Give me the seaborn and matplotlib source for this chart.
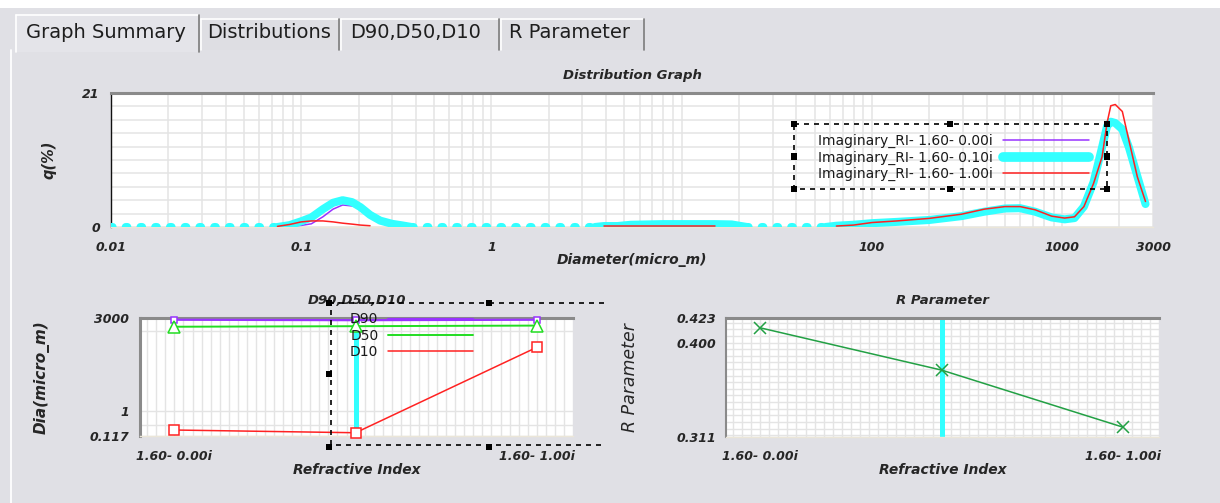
import numpy as np
import pandas as pd
import matplotlib
matplotlib.use("Agg")
import matplotlib.pyplot as plt
import seaborn as sns
from matplotlib.patches import Rectangle
from matplotlib.lines import Line2D
from matplotlib.ticker import FixedLocator, NullFormatter, MultipleLocator, LogLocator

# ---------------- data ----------------
diameter = [0.01, 0.03, 0.06, 0.075, 0.087, 0.1, 0.113, 0.13, 0.147, 0.165, 0.185, 0.205, 0.23, 0.26, 0.3, 0.34, 0.38,
            0.6, 1.2, 2.5, 3.5,
            3.9, 4.6, 5.4, 8, 12, 15, 18.3,
            22, 35, 57,
            65, 80, 100, 135, 200, 295, 390, 500, 600, 720, 880, 1030, 1160, 1300,
            1460, 1620, 1720, 1800, 1900, 2070, 2240, 2480, 2740]

q_ri_000 = [0, 0, 0, 0, 0.1, 0.25, 0.5, 1.6, 2.8, 3.45, 3.3, 3.0, 2.1, 1.1, 0.5, 0.2, 0,
            0, 0, 0, 0,
            0.15, 0.15, 0.35, 0.45, 0.45, 0.45, 0.4,
            0, 0, 0,
            0.2, 0.35, 0.6, 0.8, 1.1, 1.7, 2.4, 2.9, 2.95, 2.4, 1.5, 1.2, 1.4, 3.2,
            7.0, 12.5, 15.8, 16.5, 16.3, 15.3, 12.5, 8.0, 3.6]

q_ri_010 = [0, 0, 0, 0, 0.3, 0.9, 1.5, 2.8, 3.8, 4.2, 3.9, 3.1, 1.9, 1.0, 0.5, 0.25, 0,
            0, 0, 0, 0,
            0.15, 0.15, 0.35, 0.45, 0.45, 0.45, 0.4,
            0, 0, 0,
            0.2, 0.35, 0.6, 0.8, 1.1, 1.7, 2.4, 2.9, 2.95, 2.4, 1.5, 1.2, 1.4, 3.2,
            7.0, 12.5, 15.8, 16.5, 16.3, 15.3, 12.5, 8.0, 3.6]

q_ri_100 = [0, 0, 0, 0.1, 0.4, 0.8, 0.95, 0.95, 0.8, 0.6, 0.45, 0.3, 0.2, 0, 0, 0, 0,
            0, 0, 0, 0,
            0.2, 0.2, 0.2, 0.2, 0.2, 0.2, 0,
            0, 0, 0,
            0.15, 0.3, 0.7, 0.95, 1.35, 2.0, 2.8, 3.2, 3.2, 2.7, 1.7, 1.4, 1.6, 3.2,
            6.8, 11.0, 16.3, 19.0, 19.2, 18.1, 13.6, 7.9, 4.0]

series_labels = ["Imaginary_RI- 1.60- 0.00i", "Imaginary_RI- 1.60- 0.10i", "Imaginary_RI- 1.60- 1.00i"]

x_major_ticks = [0.01, 0.1, 1, 10, 100, 1000, 3000]
x_major_labels = ["0.01", "0.1", "1", "", "100", "1000", "3000"]

ri_positions = [0, 1, 2]
ri_ticks = [0, 0.5, 1, 1.5, 2]
ri_tick_labels = ["1.60- 0.00i", "", "", "", "1.60- 1.00i"]
d90 = [2650, 2550, 2650]
d50 = [1450, 1520, 1600]
d10 = [0.196, 0.155, 245]
d_labels = ["D90", "D50", "D10"]
r_param = [0.414, 0.374, 0.320]
selected = 1

tab_labels = ["Graph Summary", "Distributions", "D90,D50,D10", "R Parameter"]

# ---------------- style ----------------
W, H = 1220, 503
BG = "#e0e0e5"
PURPLE = "#9933ff"
CYAN = "#33ffff"
RED = "#ff2222"
GREEN = "#22dd22"
RGREEN = "#22a044"
GRID = "#e4e4e4"

sns.set_style("white")
plt.rcParams["font.family"] = ["DejaVu Sans"]

fig = plt.figure(figsize=(W / 100, H / 100), dpi=100, facecolor=BG)


def fx(p):
    return p / W


def fy(p):
    return 1 - p / H


def axes_px(x0, y0, x1, y1):
    return fig.add_axes([fx(x0), fy(y1), (x1 - x0) / W, (y1 - y0) / H])


def fig_line(xs, ys, **kw):
    fig.add_artist(Line2D([fx(v) for v in xs], [fy(v) for v in ys], transform=fig.transFigure, **kw))


def fig_rect(x0, y0, x1, y1, **kw):
    fig.add_artist(Rectangle((fx(x0), fy(y1)), (x1 - x0) / W, (y1 - y0) / H, transform=fig.transFigure, **kw))


# white strip on top
fig_rect(0, 0, W, 8, facecolor="white", edgecolor="none", zorder=0)
# panel left border
fig_line([11, 11], [50, H], color="white", lw=1.3, zorder=1)

# tabs
tab_geo = [(15, 200, 14, True, 26), (200, 340, 18, False, 207), (340, 500, 18, False, 350), (500, 645, 18, False, 509)]
order = [1, 2, 3, 0]
for i in order:
    x0, x1, yt, active, tx = tab_geo[i]
    yb = 52 if active else 50
    fig_rect(x0, yt, x1, yb, facecolor="#e4e4e9" if active else "#dedee3", edgecolor="none", zorder=1)
    fig_line([x0 + 1, x0 + 1], [yb, yt + 1], color="white", lw=1.2, zorder=2)
    fig_line([x0 + 1, x1 - 2], [yt + 0.5, yt + 0.5], color="white", lw=1.2, zorder=2)
    fig_line([x1 - 1, x1 - 1], [yt + 1, yb], color="#7c7c7c", lw=1.2, zorder=2)
    fig.text(fx(tx), fy(37.5), tab_labels[i], fontsize=14, color="#1e1e1e", ha="left", va="baseline", zorder=3)

TICKFONT = dict(fontsize=9, fontweight="bold", fontstyle="italic")
LABFONT = dict(fontsize=10, fontweight="bold", fontstyle="italic")


def style_axes(ax, left_color, left_lw, major_len, minor_len):
    ax.set_facecolor("white")
    ax.spines["right"].set_visible(False)
    ax.spines["top"].set_color("#8a8a8a")
    ax.spines["top"].set_linewidth(2.2)
    ax.spines["left"].set_color(left_color)
    ax.spines["left"].set_linewidth(left_lw)
    ax.spines["bottom"].set_color("#ebe6d8")
    ax.spines["bottom"].set_linewidth(1)
    ax.tick_params(which="both", direction="out", color="#1a1a1a", width=1.0, top=False, right=False)
    ax.tick_params(which="major", length=major_len)
    ax.tick_params(which="minor", length=minor_len)
    ax.set_axisbelow(True)


def runs(d, q, keep):
    rows = []
    seg = -1
    prev = False
    for i in range(len(d) - 1):
        k = keep(q[i], q[i + 1])
        if k:
            if not prev:
                seg += 1
                rows.append((d[i], q[i], seg))
            rows.append((d[i + 1], q[i + 1], seg))
        prev = k
    return pd.DataFrame(rows, columns=["d", "q", "seg"])


# ---------------- top: distribution graph ----------------
ax1 = axes_px(111, 93, 1153, 227)
style_axes(ax1, "#111111", 1.0, 7, 3.5)
ax1.set_xscale("log")

both_pos = lambda a, b: a > 0 and b > 0
any_pos = lambda a, b: a > 0 or b > 0
both_zero = lambda a, b: a == 0 and b == 0

df_p = runs(diameter, q_ri_000, both_pos)
sns.lineplot(data=df_p, x="d", y="q", units="seg", estimator=None, sort=False, ax=ax1,
             color=PURPLE, lw=1.1, legend=False, zorder=2)
df_c = runs(diameter, q_ri_010, any_pos)
sns.lineplot(data=df_c, x="d", y="q", units="seg", estimator=None, sort=False, ax=ax1,
             color=CYAN, lw=5.8, solid_capstyle="round", solid_joinstyle="round", legend=False, zorder=3)
df_cz = runs(diameter, q_ri_010, both_zero)
sns.lineplot(data=df_cz, x="d", y="q", units="seg", estimator=None, sort=False, ax=ax1,
             color=CYAN, lw=5.8, linestyle=(0, (0.2, 1.63)), dash_capstyle="round", legend=False, zorder=3)
df_r = runs(diameter, q_ri_100, both_pos)
sns.lineplot(data=df_r, x="d", y="q", units="seg", estimator=None, sort=False, ax=ax1,
             color=RED, lw=1.1, legend=False, zorder=4)

ax1.set_xlim(0.01, 3000)
ax1.set_ylim(0, 21)
ax1.set_xticks(x_major_ticks, x_major_labels, **TICKFONT)
ax1.xaxis.set_minor_locator(LogLocator(base=10, subs=range(2, 10), numticks=30))
ax1.xaxis.set_minor_formatter(NullFormatter())
ax1.set_yticks([0, 21], ["0", "21"], **TICKFONT)
ax1.yaxis.set_minor_locator(MultipleLocator(2.1))
ax1.tick_params(axis="x", which="major", pad=3)
ax1.tick_params(axis="y", which="major", pad=1)
ax1.grid(which="both", axis="both", color=GRID, lw=1.1)
ax1.set_xlabel("Diameter(micro_m)", **LABFONT)
ax1.xaxis.set_label_coords(0.5, (227 - 260) / 134)
ax1.xaxis.label.set_va("center")
ax1.set_ylabel("q(%)", fontsize=10.5, fontweight="bold", fontstyle="italic")
ax1.yaxis.set_label_coords((49 - 111) / 1042, 0.5)
ax1.yaxis.label.set_va("center")
ax1.text(0.5, 1 + (93 - 75) / 134, "Distribution Graph", transform=ax1.transAxes,
         ha="center", va="center", fontsize=9.5, fontweight="bold", fontstyle="italic")

h1 = [Line2D([], [], color=PURPLE, lw=1.1),
      Line2D([], [], color=CYAN, lw=7, solid_capstyle="round"),
      Line2D([], [], color=RED, lw=1.1)]
leg1 = ax1.legend(h1, series_labels, loc="center", bbox_to_anchor=(fx(953.5), fy(157.5)),
                  bbox_transform=fig.transFigure, frameon=False, markerfirst=False,
                  handlelength=6.2, handletextpad=0.75, labelspacing=0.15, fontsize=10,
                  borderpad=0, borderaxespad=0)
for t in leg1.get_texts():
    t.set_color("#1a1a1a")

# selection box around top legend
DASH = dict(color="black", lw=1.2, linestyle=(0, (3, 3)), zorder=10)
fig_line([794, 1107, 1107, 794, 794], [124, 124, 189, 189, 124], **DASH)
for (hx, hy) in [(794, 124), (950, 124), (1107, 124), (794, 156.5), (1107, 156.5),
                 (794, 189), (950, 189), (1107, 189)]:
    fig_rect(hx - 3, hy - 3, hx + 3, hy + 3, facecolor="black", edgecolor="none", zorder=11)

# ---------------- bottom-left: D90, D50, D10 ----------------
ax2 = axes_px(140, 318.3, 573, 436)
style_axes(ax2, "#8a8a8a", 2.2, 5.8, 2.9)
ax2.set_yscale("log")
df_d = pd.DataFrame({"ri": ri_positions, "D90": d90, "D50": d50, "D10": d10})

ax2.axvline(ri_positions[selected], ymin=0, ymax=0.96, color=CYAN, lw=3.6, zorder=2)
specs = [("D90", PURPLE, "s", 5, 1.6), ("D50", GREEN, "^", 8, 1.4), ("D10", RED, "s", 7, 1.1)]
for col, c, mk, ms, lw in specs:
    sns.lineplot(data=df_d, x="ri", y=col, ax=ax2, color=c, lw=lw, marker=mk, markersize=ms,
                 markerfacecolor="white", markeredgecolor=c, markeredgewidth=1.1,
                 legend=False, zorder=4, clip_on=False)
    ln = ax2.lines[-1]
    ln.set_markerfacecolor("white")
    ln.set_markeredgecolor(c)

ax2.set_xlim(-0.19, 2.2)
ax2.set_ylim(0.117, 3000)
ax2.set_xticks(ri_ticks, ri_tick_labels, **TICKFONT)
ax2.xaxis.set_minor_locator(MultipleLocator(0.05))
ax2.set_yticks([0.117, 1, 3000], ["0.117", "1", "3000"], **TICKFONT)
ax2.yaxis.set_minor_locator(FixedLocator([0.3, 1000]))
ax2.yaxis.set_minor_formatter(NullFormatter())
ax2.tick_params(axis="x", which="major", pad=4)
ax2.tick_params(axis="y", which="major", pad=2)
ax2.grid(which="both", axis="both", color=GRID, lw=1.0)
ax2.set_xlabel("Refractive Index", **LABFONT)
ax2.xaxis.set_label_coords(0.5, (436 - 470) / 117.7)
ax2.xaxis.label.set_va("center")
ax2.set_ylabel("Dia(micro_m)", fontsize=11, fontweight="bold", fontstyle="italic")
ax2.yaxis.set_label_coords((41.5 - 140) / 433, 0.504)
ax2.yaxis.label.set_va("center")
ax2.text(0.5, 1 + (318.3 - 300) / 117.7, "D90,D50,D10", transform=ax2.transAxes,
         ha="center", va="center", fontsize=9.5, fontweight="bold", fontstyle="italic")

h2 = [Line2D([], [], color=PURPLE, lw=1.6), Line2D([], [], color=GREEN, lw=1.4), Line2D([], [], color=RED, lw=1.1)]
leg2 = ax2.legend(h2, d_labels, loc="center", bbox_to_anchor=(fx(411.5), fy(335.5)),
                  bbox_transform=fig.transFigure, frameon=False, markerfirst=False,
                  handlelength=6.1, handletextpad=0.7, labelspacing=0.15, fontsize=10,
                  borderpad=0, borderaxespad=0)
for t in leg2.get_texts():
    t.set_color("#1a1a1a")

fig_line([604, 331, 331, 604], [303, 303, 444.5, 444.5], **DASH)
for (hx, hy) in [(329, 303), (489, 302.5), (329, 374), (329, 446.5), (489, 446.5)]:
    fig_rect(hx - 3, hy - 3, hx + 3, hy + 3, facecolor="black", edgecolor="none", zorder=11)

# ---------------- bottom-right: R parameter ----------------
ax3 = axes_px(725.7, 318.3, 1159.3, 436.7)
style_axes(ax3, "#8a8a8a", 1.5, 5.8, 2.9)
df_rp = pd.DataFrame({"ri": ri_positions, "R": r_param})
ax3.axvline(ri_positions[selected], color=CYAN, lw=3.6, zorder=2)
sns.lineplot(data=df_rp, x="ri", y="R", ax=ax3, color=RGREEN, lw=1.1, marker="x", markersize=8,
             markeredgecolor=RGREEN, markeredgewidth=1.1, legend=False, zorder=4)
ax3.lines[-1].set_markeredgecolor(RGREEN)
ax3.set_xlim(-0.19, 2.2)
ax3.set_ylim(0.311, 0.423)
ax3.set_xticks(ri_ticks, ri_tick_labels, **TICKFONT)
ax3.xaxis.set_minor_locator(MultipleLocator(0.05))
ax3.set_yticks([0.311, 0.4, 0.423], ["0.311", "0.400", "0.423"], **TICKFONT)
ax3.yaxis.set_minor_locator(MultipleLocator(0.00625))
ax3.tick_params(axis="x", which="major", pad=4)
ax3.tick_params(axis="y", which="major", pad=1)
ax3.grid(which="both", axis="both", color=GRID, lw=1.0)
ax3.set_xlabel("Refractive Index", **LABFONT)
ax3.xaxis.set_label_coords(0.5, (436.7 - 470) / 118.4)
ax3.xaxis.label.set_va("center")
ax3.set_ylabel("R Parameter", fontsize=12.5, fontstyle="italic")
ax3.yaxis.set_label_coords((629.6 - 725.7) / 433.6, 0.5)
ax3.yaxis.label.set_va("center")
ax3.text(0.5, 1 + (318.3 - 300) / 118.4, "R Parameter", transform=ax3.transAxes,
         ha="center", va="center", fontsize=9.5, fontweight="bold", fontstyle="italic")

fig.savefig("out.png", dpi=100, facecolor=BG)
